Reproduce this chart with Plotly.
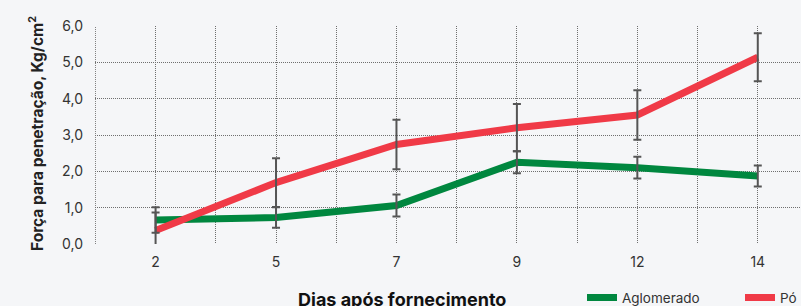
import plotly.graph_objects as go

dias = ["2", "5", "7", "9", "12", "14"]
aglomerado = [0.66, 0.73, 1.06, 2.25, 2.10, 1.87]
aglomerado_err = [0.35, 0.28, 0.30, 0.30, 0.30, 0.29]
po = [0.37, 1.69, 2.74, 3.20, 3.55, 5.14]
po_err = [0.50, 0.67, 0.68, 0.65, 0.68, 0.66]
y_ticks = [0, 1, 2, 3, 4, 5, 6]
y_labels = ["0,0", "1,0", "2,0", "3,0", "4,0", "5,0", "6,0"]

GREEN = "#00873F"
RED = "#F03A47"
FONT = "Inter"
GRID = "#6f6f6f"
DASH = "1px,1px"

xpos = list(range(len(dias)))

fig = go.Figure()
fig.add_trace(go.Scatter(x=xpos, y=aglomerado, mode="lines", name="Aglomerado",
                         line=dict(color=GREEN, width=7)))
fig.add_trace(go.Scatter(x=xpos, y=po, mode="lines", name="Pó",
                         line=dict(color=RED, width=7)))
for vals, errs in [(aglomerado, aglomerado_err), (po, po_err)]:
    fig.add_trace(go.Scatter(x=xpos, y=vals, mode="markers", showlegend=False,
                             marker=dict(size=1, color="rgba(0,0,0,0)"),
                             error_y=dict(type="data", array=errs, color="#555555",
                                          thickness=2, width=4),
                             hoverinfo="skip"))

W = 840
L, R, T, B = 95, 22, 26, 62
PW, PH = W - L - R, 306 - T - B


def px(x):
    return (x - L) / PW


def py(y):
    return (306 - B - y) / PH


fig.update_layout(
    width=W, height=306,
    margin=dict(l=L, r=R, t=T, b=B),
    paper_bgcolor="#F5F6F8", plot_bgcolor="#F5F6F8",
    font=dict(family=FONT, color="#333333", size=14),
    showlegend=True,
    legend=dict(orientation="h", xref="container", yref="container",
                x=582 / W, y=8.3 / 306, xanchor="left", yanchor="middle",
                font=dict(size=13.5, color="#333333"),
                entrywidth=113, entrywidthmode="pixels",
                bgcolor="rgba(0,0,0,0)"),
)
fig.update_xaxes(
    range=[-0.503, 5.5], tickmode="array", tickvals=xpos, ticktext=dias,
    showgrid=True, gridcolor=GRID, griddash=DASH, gridwidth=1,
    minor=dict(tick0=-0.5, dtick=0.5, showgrid=True, gridcolor=GRID,
               griddash=DASH, gridwidth=1),
    zeroline=False, showline=False, ticks="", ticklabelstandoff=8,
    tickfont=dict(size=14, color="#333333"),
)
fig.update_yaxes(
    range=[0, 6], tickmode="array", tickvals=y_ticks, ticktext=y_labels,
    showgrid=False, zeroline=False, showline=False, ticks="",
    minor=dict(tickmode="array", tickvals=y_ticks[:-1], showgrid=True,
               gridcolor=GRID, griddash=DASH, gridwidth=1),
    tickfont=dict(size=14, color="#333333"), ticklabelstandoff=11,
)
# left border of the plot area, dotted like the grid
fig.add_shape(type="line", xref="x", yref="paper", x0=-0.5, x1=-0.5, y0=0, y1=1,
              line=dict(color=GRID, width=1, dash=DASH), layer="below")
fig.add_annotation(text="<b>Força para penetração, Kg/cm<sup>2</sup></b>",
                   xref="paper", yref="paper", x=px(36), y=py(134),
                   textangle=-90, showarrow=False, xanchor="center", yanchor="middle",
                   font=dict(size=15.5, color="#222222", family=FONT))
fig.add_annotation(text="<b>Dias após fornecimento</b>",
                   xref="paper", yref="paper", x=px(402), y=py(299.5),
                   showarrow=False, xanchor="center", yanchor="middle",
                   font=dict(size=18, color="#111111", family=FONT))

fig.write_html("out.html", config={"displayModeBar": False},
               post_script="document.body.style.margin='0';document.body.style.overflow='hidden';document.documentElement.style.overflow='hidden';")
